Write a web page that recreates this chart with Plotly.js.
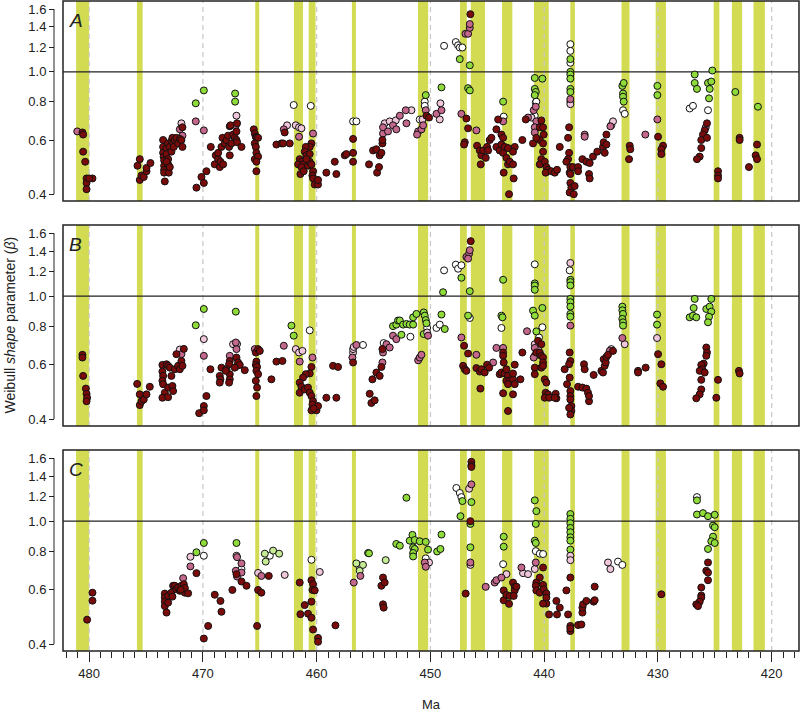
<!DOCTYPE html>
<html>
<head>
<meta charset="utf-8">
<script src="https://cdn.plot.ly/plotly-3.0.1.min.js"></script>
<style>html,body{margin:0;padding:0;background:#fff;}#chart{width:802px;height:712px;}</style>
</head>
<body>
<div id="chart"></div>
<script>
// ---------- shared ----------
const bands = [[481.15,480.0],[475.8,475.3],[465.4,465.05],[462.0,461.2],[460.7,460.1],[456.9,456.55],
  [451.1,450.2],[447.4,446.8],[446.45,445.2],[443.7,442.8],[440.9,439.6],[437.7,437.3],[433.2,432.5],
  [430.2,429.3],[425.1,424.6],[423.5,422.6],[421.6,420.6]];
const dashedMa = [480,470,460,450,440,430,420];
const yTickVals = [0.4,0.6,0.8,1.0,1.2,1.4,1.6];
const yTickText = ["0.4","0.6","0.8","1.0","1.2","1.4","1.6"];
const xTickVals = [480,470,460,450,440,430,420];
const panelLetters = ["A","B","C"];

// ---------- panel A : [Ma, beta] ----------
const A_dark = [[480.59,0.635],[480.53,0.625],[480.53,0.55],[480.35,0.51],[480.23,0.45],[480.23,0.435],[480.23,0.415],[479.71,0.45],[480.0,0.45],
 [475.75,0.495],[475.55,0.52],[475.55,0.445],[475.40,0.46],[475.20,0.455],[474.96,0.475],[474.96,0.487],[474.61,0.505],
 [473.50,0.60],[473.50,0.57],[473.50,0.545],[473.45,0.53],[473.41,0.515],[473.41,0.495],[473.41,0.48],[473.41,0.47],[473.35,0.44],[473.20,0.565],[473.20,0.54],[473.06,0.585],[473.06,0.52],[473.06,0.50],[473.0,0.47],[472.91,0.57],[472.77,0.595],[472.77,0.55],[472.68,0.61],[472.62,0.585],[472.56,0.57],[472.47,0.60],[472.33,0.61],[472.18,0.585],[472.03,0.605],[471.89,0.60],[471.80,0.66],[471.80,0.57],[473.20,0.51],[472.91,0.49],
 [470.57,0.42],[470.13,0.455],[469.92,0.435],[469.69,0.475],[469.31,0.57],
 [468.96,0.50],[468.87,0.535],[468.66,0.52],[468.66,0.545],[468.52,0.49],[468.46,0.51],[468.37,0.57],[468.28,0.61],[468.22,0.50],[468.08,0.585],[467.93,0.60],[467.79,0.62],[467.70,0.57],[467.64,0.535],[467.64,0.665],[467.58,0.67],[467.49,0.585],[467.35,0.625],[467.20,0.61],[467.05,0.64],[467.05,0.60],[467.0,0.59],[466.61,0.57],[467.0,0.68],
 [465.53,0.65],[465.44,0.63],[465.35,0.615],[465.30,0.61],[465.15,0.61],[465.44,0.585],[465.35,0.57],[465.30,0.545],[465.44,0.52],[465.15,0.53],[465.30,0.51],[465.30,0.475],
 [463.54,0.58],[463.10,0.585],[462.95,0.585],[462.37,0.585],[462.81,0.635],
 [460.46,0.585],[460.61,0.57],[460.96,0.57],[461.05,0.55],[460.90,0.535],[461.49,0.52],[461.34,0.51],[461.63,0.50],[461.20,0.50],[461.34,0.49],[461.43,0.465],[461.14,0.475],[460.76,0.495],[460.61,0.51],[460.46,0.50],[460.32,0.475],[460.37,0.46],[460.32,0.45],[460.17,0.43],[459.88,0.43],[459.88,0.445],[460.61,0.54],[460.90,0.52],
 [459.15,0.47],[458.27,0.465],[458.41,0.51],[457.53,0.535],[457.39,0.54],[456.80,0.605],[456.80,0.545],[456.80,0.51],
 [455.40,0.50],[455.04,0.555],[454.75,0.56],[454.69,0.47],[454.52,0.49],[454.46,0.535],[454.31,0.545],[454.22,0.585],[454.22,0.60],
 [450.35,0.72],[450.12,0.71],
 [446.49,1.54],[446.84,0.705],[446.69,0.655],[446.98,0.59],[447.04,0.58],
 [445.90,0.575],[445.66,0.555],[445.52,0.535],[445.37,0.555],[445.58,0.50],[445.14,0.525],[445.02,0.57],[444.79,0.60],[444.64,0.61],[444.93,0.555],[444.20,0.65],[444.05,0.70],[443.76,0.625],[443.61,0.61],[444.20,0.57],[443.91,0.555],[443.76,0.58],[443.61,0.545],[443.47,0.57],[443.32,0.525],[443.18,0.565],[443.18,0.50],[443.03,0.51],[442.74,0.50],[442.59,0.57],[442.68,0.45],[443.56,0.47],[443.09,0.40],[442.74,0.55],
 [441.92,0.60],[441.62,0.70],[440.98,0.585],[440.39,0.66],[440.25,0.695],[440.10,0.66],[440.04,0.625],[440.39,0.60],[440.10,0.585],[440.10,0.55],[440.25,0.52],[440.39,0.50],[439.95,0.51],[439.81,0.49],[439.66,0.48],[439.87,0.47],[439.37,0.475],[439.07,0.47],[438.87,0.48],[438.63,0.57],[440.69,0.61],
 [437.81,0.66],[437.90,0.61],[437.81,0.545],[437.90,0.52],[438.05,0.51],[437.70,0.49],[437.76,0.47],[437.70,0.465],[437.46,0.49],[437.70,0.435],[437.61,0.42],[437.32,0.425],[437.76,0.405],[437.40,0.40],[437.02,0.49],[437.02,0.475],
 [436.64,0.52],[436.29,0.51],[436.0,0.505],[436.06,0.465],[436.0,0.45],[435.71,0.53],[435.33,0.55],[434.83,0.57],[434.77,0.59],[434.68,0.545],[434.53,0.625],[434.53,0.58],
 [432.48,0.575],[432.43,0.56],[432.54,0.52],
 [429.99,0.615],[429.55,0.575],[429.70,0.56],[429.70,0.54],
 [425.69,0.68],[425.89,0.645],[426.04,0.625],[426.19,0.60],[426.19,0.565],[426.33,0.53],[426.57,0.52],[425.69,0.61],[424.72,0.475],[424.72,0.46],[424.72,0.45],
 [422.82,0.61],[422.82,0.60],[422.0,0.49],[421.29,0.58],[421.41,0.535],[421.29,0.52]];
const A_mid = [[481.05,0.64],[472.03,0.65],[471.80,0.62],[470.63,0.69],[469.92,0.645],[467.11,0.67],[462.89,0.65],[461.55,0.615],[460.32,0.63],
 [454.17,0.63],[454.17,0.66],[453.73,0.64],[453.29,0.67],[453.0,0.65],
 [452.69,0.72],[452.11,0.68],[452.17,0.75],[451.08,0.64],[451.17,0.625],[450.79,0.65],[450.64,0.67],[450.41,0.75],[449.47,0.73],[449.03,0.75],
 [446.92,1.33],[446.69,1.33],[446.54,1.39],[446.54,1.43],[447.28,0.73],[445.96,0.645],[443.61,0.69],
 [441.42,0.71],[440.92,0.75],[440.74,0.77],[440.69,0.69],[440.83,0.66],[440.83,0.635],[437.70,0.815],
 [436.44,0.625],[436.44,0.615],[434.18,0.665],[431.11,0.625],[430.05,0.70],[425.80,0.66]];
const A_light = [[471.89,0.68],[467.05,0.72],[462.60,0.67],[461.84,0.67],[461.55,0.66],[461.34,0.655],[454.02,0.68],[453.58,0.69],[453.05,0.695],
 [451.67,0.75],[450.70,0.70],[449.18,0.70],[449.12,0.79],[441.12,0.71],[437.70,0.80],[437.70,0.785],[434.10,0.67],[433.95,0.69]];
const A_white = [[462.02,0.78],[460.52,0.775],[456.80,0.69],[456.51,0.69],[450.50,0.80],[450.50,0.775],[450.94,0.70],
 [448.80,1.215],[447.77,1.25],[447.57,1.22],[447.42,1.20],[447.19,1.20],[443.56,0.715],[440.83,0.72],[440.74,0.795],[440.69,0.80],
 [437.70,1.23],[437.70,1.17],[437.70,1.07],[433.07,0.75],[432.92,0.73],[427.21,0.76],[426.92,0.775],[425.60,0.75]];
const A_green = [[470.63,0.79],[469.92,0.87],[467.17,0.85],[467.17,0.80],[450.41,0.84],[449.03,0.89],[447.42,1.10],[446.54,1.05],[446.69,0.885],[446.54,0.87],
 [443.61,0.80],[440.83,0.955],[440.16,0.95],[440.83,0.88],[440.74,0.86],[440.83,0.84],
 [437.70,1.10],[437.70,1.0],[437.70,0.98],[437.70,0.95],[437.70,0.88],[437.70,0.86],
 [433.13,0.90],[433.01,0.92],[433.07,0.85],[433.07,0.83],[433.01,0.80],[430.05,0.90],[430.05,0.84],
 [426.77,0.98],[426.77,0.92],[426.57,0.88],[425.60,0.92],[425.45,0.88],[425.51,0.82],[425.31,0.93],[425.22,1.01],[423.20,0.86],[421.21,0.77]];
const A_lgreen = [];

// ---------- panel B ----------
const B_dark = [[480.59,0.646],[480.59,0.633],[480.53,0.552],[480.29,0.502],[480.23,0.483],[480.18,0.469],[480.23,0.457],
 [475.78,0.52],[475.55,0.481],[475.55,0.444],[475.40,0.457],[475.20,0.463],[474.96,0.481],[474.67,0.509],
 [473.56,0.599],[473.20,0.602],[473.06,0.595],[472.91,0.587],[473.56,0.570],[473.50,0.552],[473.56,0.532],[473.50,0.519],[473.35,0.487],[473.56,0.469],[473.06,0.471],[473.06,0.506],[472.68,0.512],[472.62,0.493],[472.77,0.552],[472.47,0.580],[472.18,0.595],[472.03,0.580],[471.89,0.617],[471.80,0.595],[472.33,0.649],[471.68,0.675],
 [470.33,0.418],[469.92,0.441],[469.92,0.427],[469.69,0.475],[469.34,0.580],
 [468.52,0.552],[468.46,0.538],[468.52,0.525],[468.37,0.587],[467.64,0.617],[467.70,0.602],[467.64,0.559],[467.64,0.538],[467.70,0.525],[467.93,0.580],[467.05,0.633],[467.0,0.595],[466.91,0.610],[466.76,0.599],[467.20,0.587],[466.32,0.576],[467.99,0.573],
 [465.35,0.657],[465.15,0.674],[465.0,0.665],[465.30,0.614],[465.35,0.599],[465.24,0.590],[465.30,0.573],[465.15,0.559],[465.35,0.532],[465.24,0.506],[465.30,0.475],
 [463.98,0.538],[463.54,0.614],[463.01,0.617],
 [460.46,0.590],[460.61,0.562],[460.96,0.559],[461.20,0.545],[461.49,0.525],[461.34,0.509],[461.49,0.487],[461.05,0.499],[460.76,0.506],[460.61,0.487],[460.46,0.475],[460.32,0.457],[460.37,0.446],[460.46,0.427],[460.02,0.427],[459.88,0.441],[460.26,0.433],
 [459.15,0.469],[458.27,0.469],[458.56,0.595],[458.12,0.590],[456.80,0.610],
 [455.34,0.483],[455.19,0.451],[454.90,0.460],[455.10,0.538],[454.75,0.566],[454.46,0.552],[454.31,0.590],[454.22,0.674],
 [446.46,1.507],[447.04,0.691],[446.69,0.652],[447.13,0.595],[446.98,0.580],[446.84,0.573],
 [445.96,0.585],[445.66,0.570],[445.52,0.580],[445.61,0.502],[445.23,0.566],[445.02,0.60],[444.84,0.587],
 [443.61,0.657],[443.61,0.641],[443.56,0.610],[443.91,0.559],[443.76,0.566],[443.47,0.562],[443.32,0.580],[443.18,0.552],[443.32,0.532],[443.03,0.532],[443.18,0.519],[442.74,0.538],[442.59,0.60],[442.74,0.562],[442.59,0.519],[443.61,0.485],[443.18,0.425],[442.74,0.481],[442.09,0.538],[441.92,0.657],
 [440.54,0.717],[440.69,0.657],[440.39,0.657],[440.25,0.641],[440.10,0.633],[440.25,0.699],[440.10,0.610],[440.83,0.587],[440.83,0.559],[440.25,0.587],[440.10,0.595],[439.95,0.538],[439.81,0.525],[439.87,0.487],[439.66,0.481],[439.95,0.469],[439.57,0.469],[438.99,0.483],[438.93,0.467],[439.07,0.469],
 [437.76,0.657],[437.70,0.617],[437.81,0.602],[438.20,0.580],[437.99,0.519],[437.76,0.545],[437.70,0.493],[437.70,0.475],[437.70,0.463],[437.61,0.441],[437.61,0.425],[437.70,0.414],[437.81,0.435],
 [437.02,0.509],[436.64,0.506],[436.29,0.502],[436.15,0.487],[436.06,0.457],[436.06,0.475],[436.50,0.602],[436.44,0.580],[435.65,0.556],[434.97,0.573],[434.83,0.566],[434.77,0.625],[434.68,0.595],[434.59,0.610],[434.53,0.636],[434.39,0.646],[433.95,0.665],
 [431.75,0.573],[431.75,0.566],[431.08,0.587],
 [429.99,0.649],[429.70,0.602],[429.79,0.522],[429.55,0.509],
 [425.75,0.682],[425.69,0.657],[425.75,0.641],[425.98,0.605],[426.19,0.599],[426.10,0.580],[426.33,0.573],[425.89,0.566],[426.19,0.536],[426.19,0.499],[426.33,0.481],[426.63,0.467],[424.72,0.536],[424.87,0.469],
 [422.88,0.573],[422.82,0.562]];
const B_mid = [[471.89,0.649],[469.92,0.641],[467.64,0.641],[467.05,0.674],[467.11,0.708],[465.44,0.674],[462.89,0.691],[461.49,0.614],[460.37,0.633],
 [456.86,0.633],[456.51,0.695],[454.22,0.610],[454.17,0.657],[453.87,0.699],[453.58,0.682],[453.29,0.745],[453.0,0.726],
 [451.08,0.620],[450.94,0.633],[450.79,0.646],[450.21,0.745],
 [446.84,1.34],[446.60,1.374],[446.54,1.409],[446.69,1.323],[447.28,0.735],[445.96,0.646],[444.49,0.61],[444.20,0.68],[443.61,0.68],
 [441.51,0.77],[440.83,0.68],[440.83,0.641],[440.92,0.633],[437.70,0.803],[434.24,0.665],[433.13,0.732]];
const B_light = [[472.03,0.672],[469.92,0.726],[467.35,0.699],[467.0,0.70],[461.84,0.674],[461.55,0.657],[461.25,0.665],[456.80,0.657],[456.80,0.674],[456.74,0.685],
 [450.29,0.763],[440.83,0.699],[440.54,0.679],[437.70,1.281],[434.10,0.674],[432.92,0.699],[430.08,0.732]];
const B_white = [[460.61,0.775],[455.93,0.695],[454.11,0.705],[451.76,0.739],[450.29,0.789],[449.47,0.789],[449.18,0.809],
 [448.80,1.212],[447.77,1.265],[447.57,1.227],[447.28,1.259],[446.54,0.85],[443.76,0.789],[440.83,1.268],[440.16,0.793],[440.45,0.735],[437.76,1.212]];
const B_green = [[470.63,0.805],[469.92,0.909],[467.11,0.891],[462.22,0.803],[462.02,0.745],[453.29,0.80],[453.0,0.809],[452.85,0.834],
 [452.69,0.834],[452.40,0.809],[452.11,0.813],[451.82,0.809],[451.52,0.809],[452.55,0.75],[451.52,0.854],[451.23,0.876],[450.59,0.886],[450.50,0.865],[450.41,0.837],[450.35,0.817],[450.59,0.754],[449.03,0.872],[448.74,0.783],[448.89,1.03],
 [447.28,1.147],[446.54,1.038],[446.69,0.865],[443.76,0.865],[443.67,0.854],[443.61,1.13],
 [440.83,1.10],[440.83,1.083],[440.83,1.049],[440.98,0.898],[440.83,0.865],[440.16,0.916],[440.69,0.769],
 [437.70,1.13],[437.70,1.111],[437.70,1.083],[437.70,0.98],[437.70,0.956],[437.70,0.925],[437.70,0.876],[437.70,0.858],
 [433.13,0.925],[433.13,0.90],[433.07,0.876],[433.13,0.844],[433.07,0.823],[433.07,0.803],[430.08,0.872],[430.08,0.809],
 [427.21,0.854],[426.92,0.865],[426.63,0.854],[426.86,0.916],[426.77,0.98],[425.75,0.909],[425.45,0.925],[425.31,0.891],[425.51,0.858],[425.60,0.823],[425.31,0.98]];
const B_lgreen = [];

// ---------- panel C ----------
const C_dark = [[480.18,0.48],[479.71,0.587],[479.71,0.553],
 [473.35,0.583],[473.35,0.566],[473.35,0.549],[473.35,0.531],[473.20,0.506],[473.06,0.573],[473.06,0.545],[472.77,0.587],[472.62,0.618],[472.68,0.570],[472.47,0.618],[472.33,0.602],[472.18,0.610],[472.03,0.595],[471.89,0.618],[471.68,0.625],[471.59,0.587],[471.59,0.608],[471.30,0.584],[471.95,0.600],
 [470.57,0.679],[469.92,0.417],[469.54,0.458],[468.96,0.578],[468.46,0.552],[468.37,0.509],
 [467.41,0.599],[466.61,0.638],[466.17,0.618],[467.05,0.674],
 [465.24,0.458],[465.15,0.599],[464.86,0.587],[464.21,0.665],
 [461.49,0.633],[461.43,0.50],[461.05,0.535],[460.76,0.502],[460.46,0.487],[460.32,0.446],[460.46,0.549],[460.46,0.644],[460.32,0.625],[460.37,0.599],[460.17,0.597],[459.88,0.419],[459.88,0.407],
 [458.35,0.46],[454.31,0.618],[454.17,0.657],[454.02,0.633],[454.17,0.538],[454.11,0.525],
 [446.90,0.583],[446.40,1.557],[446.40,1.518],[446.40,1.499],[446.49,1.0],
 [443.56,0.597],[443.56,0.555],[443.32,0.577],[443.09,0.54],[443.03,0.573],[442.74,0.633],[442.59,0.613],[442.59,0.597],[442.44,0.614],[442.68,0.573],
 [440.10,0.708],[440.39,0.657],[440.69,0.633],[440.74,0.618],[440.69,0.597],[440.39,0.587],[440.10,0.622],[440.04,0.602],[439.81,0.583],[439.81,0.566],[439.81,0.541],[440.10,0.541],[439.57,0.499],[438.93,0.552],[438.87,0.499],[438.63,0.525],[438.05,0.597],[437.90,0.499],
 [437.70,0.657],[437.70,0.458],[437.70,0.441],[437.70,0.450],[437.02,0.461],[436.73,0.463],[436.64,0.506],[436.64,0.525],[436.58,0.538],[436.29,0.552],[435.65,0.549],[435.56,0.614],[435.56,0.555],
 [429.70,0.58],
 [425.60,0.735],[425.75,0.691],[425.60,0.682],[425.60,0.644],[426.19,0.610],[426.19,0.575],[426.19,0.566],[426.33,0.549],[426.63,0.538],[426.48,0.531]];
const C_mid = [[471.74,0.654],[471.10,0.714],[467.0,0.765],[467.11,0.691],[467.0,0.662],[466.61,0.730],[466.61,0.682],[464.86,0.665],[456.74,0.633],[456.16,0.665],
 [450.50,0.735],[450.41,0.712],[446.40,1.316],[446.49,0.735],[445.14,0.613],[444.35,0.633],[444.20,0.644],[443.76,0.657],[442.0,0.708],[440.74,0.735]];
const C_light = [[471.10,0.767],[467.05,0.773],[465.15,0.68],[462.81,0.67],[459.73,0.685],[450.12,0.735],[446.60,1.274],[446.49,0.722],[443.32,0.674],
 [441.86,0.679],[441.42,0.674],[440.83,0.70],[437.70,0.773],[437.70,0.748],[434.39,0.735],[434.18,0.70]];
const C_white = [[469.92,0.773],[466.61,0.699],[464.12,0.773],[460.46,0.75],[456.22,0.71],[450.41,0.758],[447.72,1.281],[447.42,1.234],[447.28,1.197],
 [443.61,0.726],[440.74,0.80],[440.39,0.785],[440.10,0.783],[433.51,0.74],[433.13,0.722],[426.57,1.197]];
const C_green = [[470.57,0.793],[469.92,0.85],[467.05,0.85],[455.48,0.789],[455.40,0.787],[453.0,0.844],
 [452.69,0.833],[452.11,1.191],[451.82,0.865],[451.58,0.903],[451.38,0.869],[451.52,0.823],[451.38,0.813],[451.52,0.789],[451.52,0.769],[450.94,0.861],[450.41,0.857],[450.21,0.809],[449.41,0.798],[449.12,0.813],[449.03,0.905],
 [447.19,1.162],[447.36,1.038],[446.40,1.153],[446.49,0.98],[446.49,0.823],[443.56,0.891],[443.56,0.827],
 [440.83,1.168],[440.69,1.078],[440.74,0.98],[440.83,0.865],[440.74,0.85],
 [437.70,1.055],[437.70,1.018],[437.70,0.985],[437.70,0.951],[437.70,0.921],[437.70,0.887],[437.70,0.865],[437.70,0.809],
 [426.57,1.168],[426.57,1.051],[426.04,1.062],[425.60,1.038],[425.01,1.049],[425.16,0.968],[425.01,0.956],[425.16,0.891],[425.31,0.861],[425.60,0.813],[425.01,0.85]];
const C_lgreen = [[464.56,0.785],[464.48,0.74],[463.83,0.803],[463.30,0.785],[456.51,0.73],[456.22,0.691],[455.93,0.722],[453.93,0.748]];

// ---------- build ----------
const groupStyle = [
  {key:"white",  color:"#ffffff"},
  {key:"lgreen", color:"#c6eb95"},
  {key:"green",  color:"#8edb3a"},
  {key:"light",  color:"#efc6da"},
  {key:"mid",    color:"#c3678c"},
  {key:"dark",   color:"#7a0b0b"}
];
const panels = [
  {white:A_white, lgreen:A_lgreen, green:A_green, light:A_light, mid:A_mid, dark:A_dark},
  {white:B_white, lgreen:B_lgreen, green:B_green, light:B_light, mid:B_mid, dark:B_dark},
  {white:C_white, lgreen:C_lgreen, green:C_green, light:C_light, mid:C_mid, dark:C_dark}
];
const axSuffix = ["", "2", "3"];
const domains = [[0.6923,1.0],[0.3462,0.6554],[0.0,0.3092]];
const xRange = [482.3, 417.6];
const yRange = [Math.log10(0.38), Math.log10(1.70)];
const FONT = "Liberation Sans, Arial, Helvetica, sans-serif";

const traces = [];
panels.forEach((p, i) => {
  groupStyle.forEach(g => {
    const pts = p[g.key];
    if (!pts.length) return;
    traces.push({
      type: "scatter", mode: "markers",
      x: pts.map(d => d[0]), y: pts.map(d => d[1]),
      xaxis: "x" + axSuffix[i], yaxis: "y" + axSuffix[i],
      marker: {size: 7, color: g.color, line: {color: "#111", width: 1}},
      hoverinfo: "x+y", showlegend: false
    });
  });
});

const layout = {
  width: 802, height: 712,
  margin: {l: 63, r: 3, t: 1, b: 61},
  paper_bgcolor: "#fff", plot_bgcolor: "#fff",
  font: {family: FONT, size: 13, color: "#222"},
  showlegend: false,
  shapes: [], annotations: []
};

for (let i = 0; i < 3; i++) {
  const s = axSuffix[i];
  const xa = {
    domain: [0, 1], range: xRange, anchor: "y" + s,
    showgrid: false, zeroline: false, showline: false,
    ticks: "", showticklabels: false, fixedrange: true
  };
  if (i === 2) {
    Object.assign(xa, {
      ticks: "outside", ticklen: 10, tickwidth: 1, tickcolor: "#222",
      tickvals: xTickVals, ticktext: xTickVals.map(String), showticklabels: true,
      tickfont: {size: 13, color: "#222"},
      minor: {dtick: 1, tick0: 0, ticks: "outside", ticklen: 6, tickwidth: 1, tickcolor: "#222", showgrid: false},
      title: {text: "Ma", font: {size: 13, color: "#222"}, standoff: 20}
    });
  }
  layout["xaxis" + s] = xa;
  layout["yaxis" + s] = {
    domain: domains[i], type: "log", range: yRange,
    anchor: "free", position: 0, shift: -9,
    showgrid: false, zeroline: false, showline: false,
    ticks: "outside", ticklen: 5, tickwidth: 1, tickcolor: "#222",
    tickvals: yTickVals, ticktext: yTickText, tickfont: {size: 13, color: "#222"},
    fixedrange: true
  };
  bands.forEach(b => layout.shapes.push({
    type: "rect", xref: "x" + s, yref: "y" + s + " domain",
    x0: b[0], x1: b[1], y0: 0, y1: 1,
    fillcolor: "#d3db52", line: {width: 0}, layer: "below"
  }));
  dashedMa.forEach(m => layout.shapes.push({
    type: "line", xref: "x" + s, yref: "y" + s + " domain",
    x0: m, x1: m, y0: 0, y1: 1,
    line: {color: "#c8c8c8", width: 1.2, dash: "5px,4px"}, layer: "below"
  }));
  layout.shapes.push({
    type: "line", xref: "x" + s + " domain", yref: "y" + s,
    x0: 0, x1: 1, y0: 1, y1: 1,
    line: {color: "#222", width: 1.3}, layer: "below"
  });
  layout.shapes.push({
    type: "rect", xref: "x" + s + " domain", yref: "y" + s + " domain",
    x0: 0, x1: 1, y0: 0, y1: 1,
    line: {color: "#222", width: 1.5}, layer: "above"
  });
  layout.shapes.push({
    type: "line", xref: "paper", xsizemode: "pixel", xanchor: 0,
    x0: -9, x1: -9, yref: "y" + s, y0: 0.4, y1: 1.6,
    line: {color: "#222", width: 1}
  });
  layout.annotations.push({
    xref: "x" + s + " domain", yref: "y" + s + " domain",
    x: 0.006, y: 0.965, xanchor: "left", yanchor: "top",
    text: "<i>" + panelLetters[i] + "</i>", showarrow: false,
    font: {size: 19, color: "#222"}
  });
}

layout.annotations.push({
  xref: "paper", yref: "paper", x: -0.072, y: 0.5008,
  xanchor: "center", yanchor: "middle", textangle: -90,
  text: "Weibull <i>shape</i> parameter (<i>β</i>)", showarrow: false,
  font: {size: 14, color: "#222"}
});

Plotly.newPlot("chart", traces, layout, {displayModeBar: false, staticPlot: true});
</script>
</body>
</html>
